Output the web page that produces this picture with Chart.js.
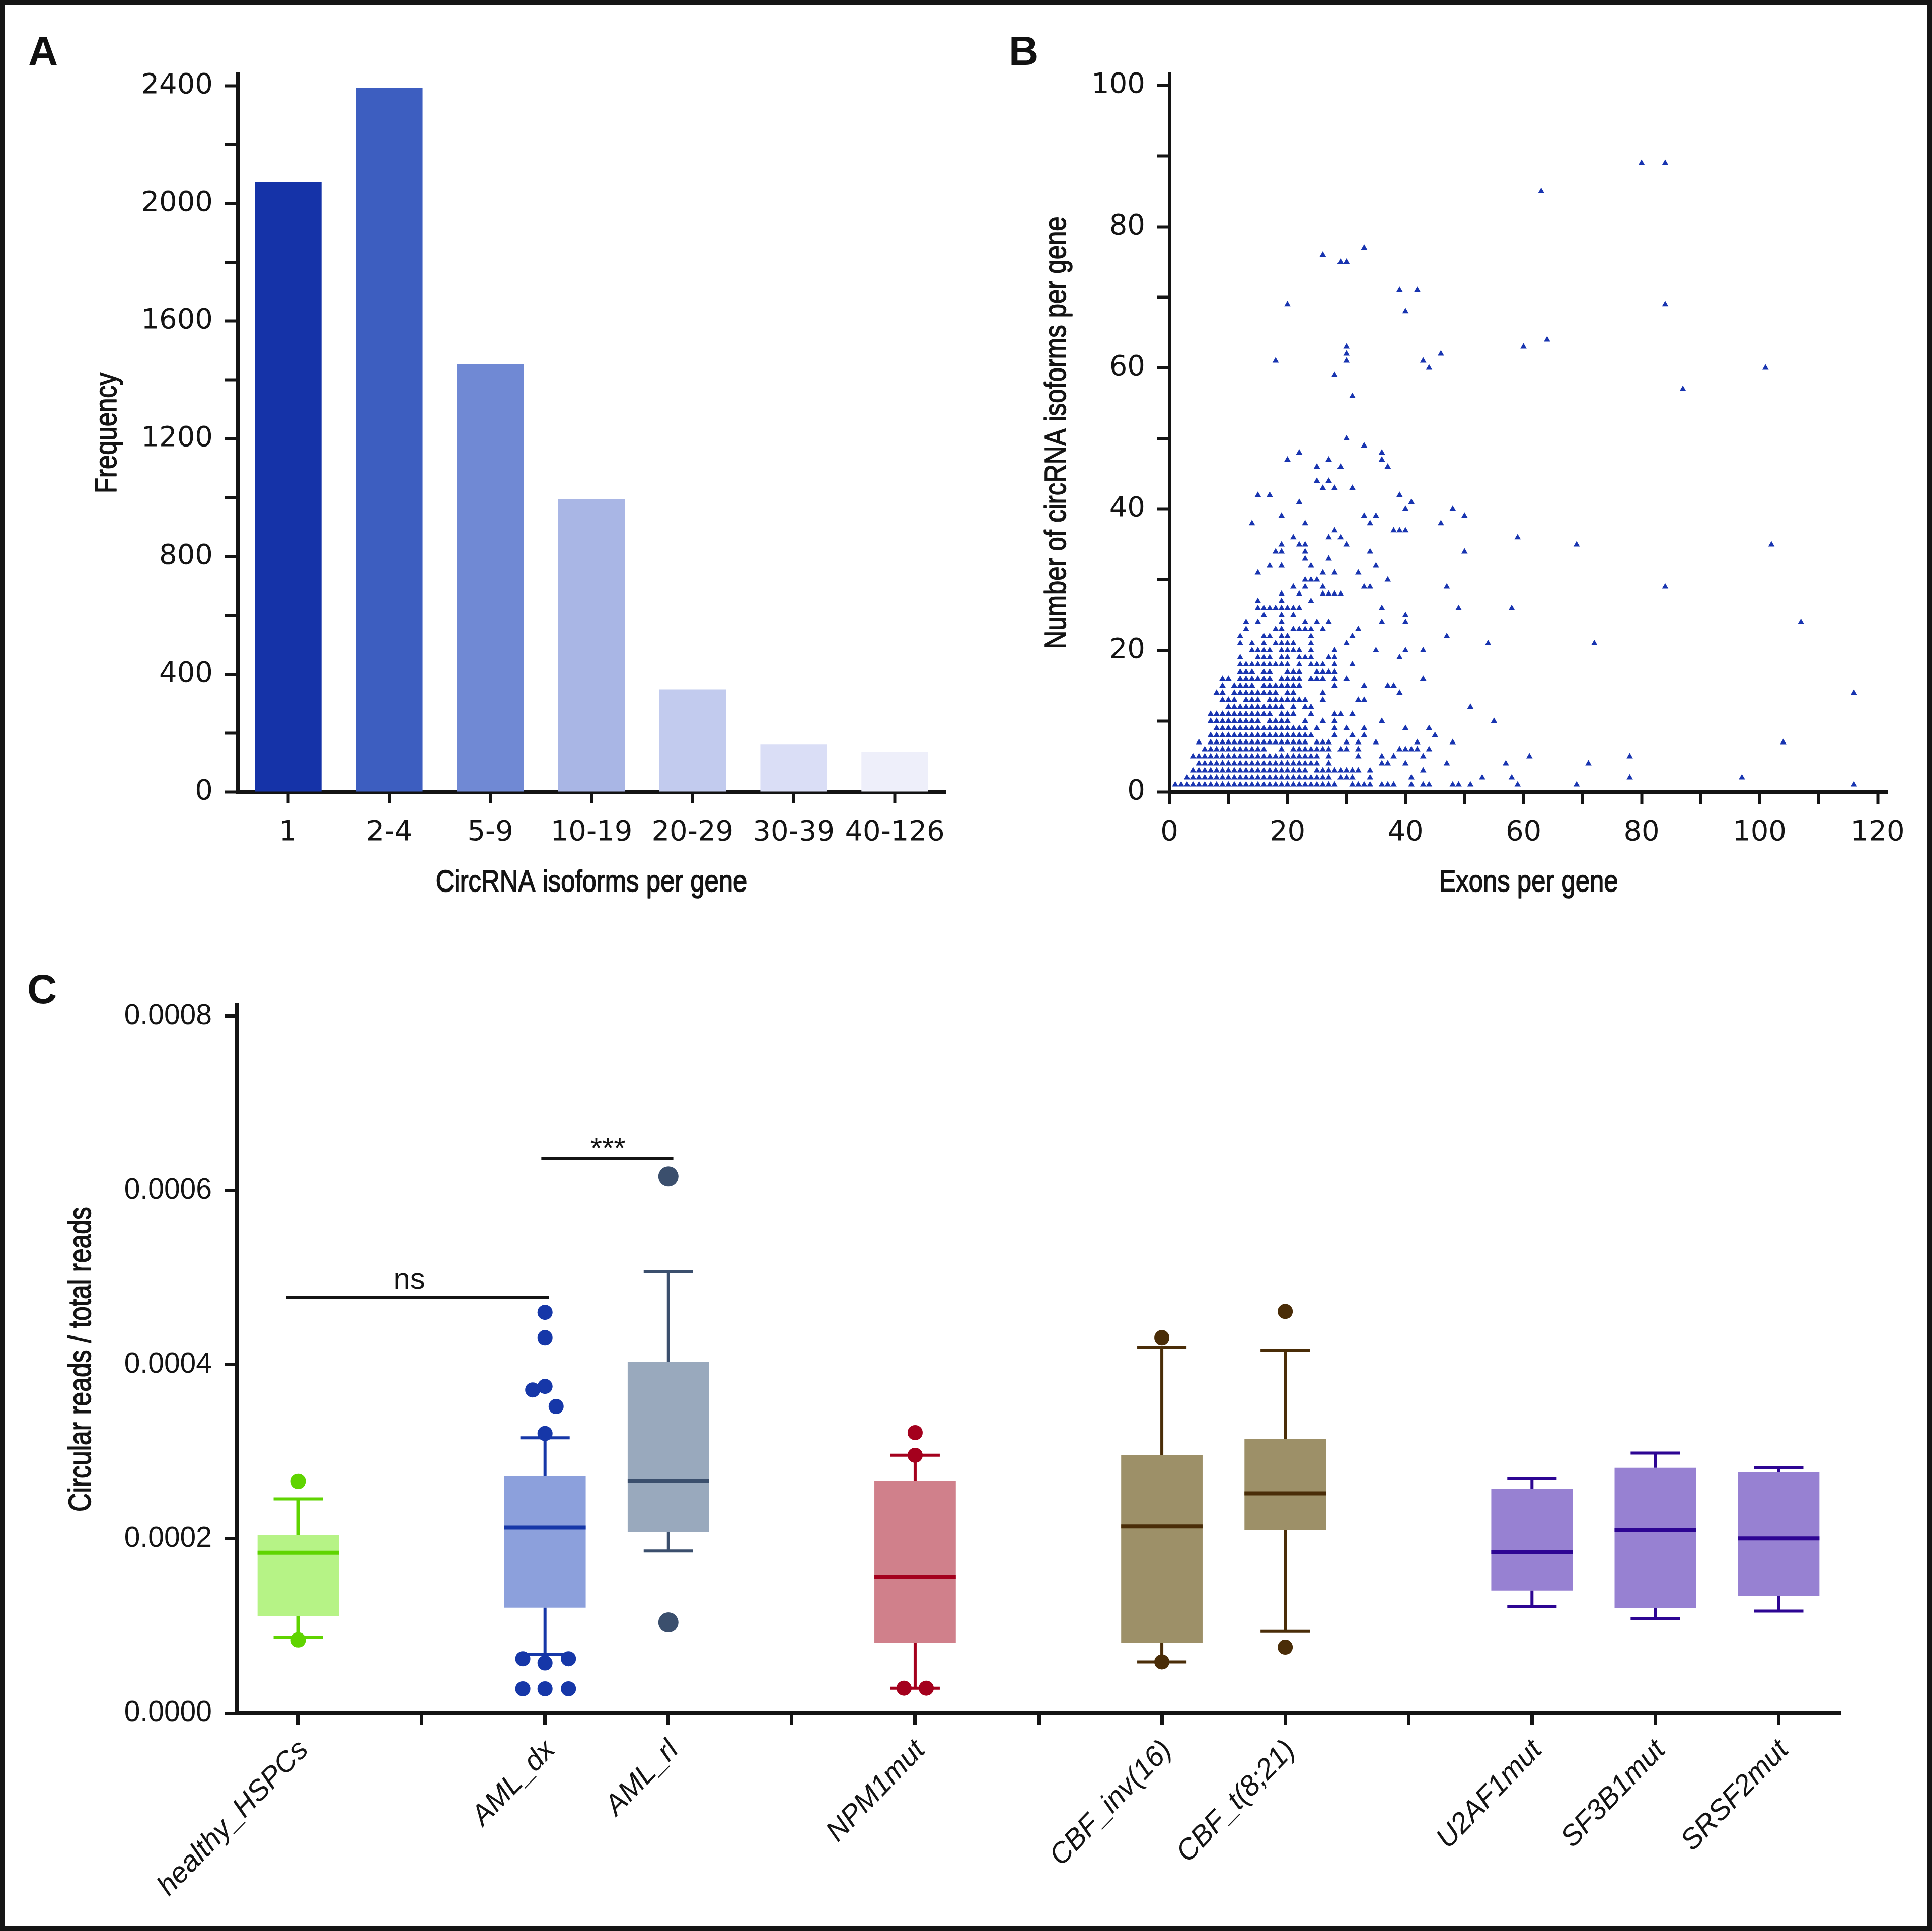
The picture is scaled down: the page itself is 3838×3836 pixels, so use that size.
<!DOCTYPE html>
<html>
<head>
<meta charset="utf-8">
<title>circRNA isoforms figure</title>
<script src="https://cdn.jsdelivr.net/npm/chart.js@4.4.1/dist/chart.umd.min.js"></script>
<style>
  html, body { margin:0; padding:0; background:#fff; }
  #page { position:relative; width:3838px; height:3836px; background:#fff; overflow:hidden; }
  #page canvas { position:absolute; }
  #frame { position:absolute; left:0; top:0; width:3838px; height:3836px; box-sizing:border-box; border:10px solid #151515; pointer-events:none; }
  .panel { position:absolute; font-family:'Liberation Sans', Arial, sans-serif; font-weight:bold; font-size:82px; line-height:1; color:#111; }
</style>
</head>
<body>
<div id="page">
  <canvas id="chartA" width="1950" height="1850" style="left:0;top:0"></canvas>
  <canvas id="chartB" width="1888" height="1850" style="left:1950px;top:0"></canvas>
  <canvas id="chartC" width="3838" height="1986" style="left:0;top:1850px"></canvas>
  <div class="panel" style="left:56px;top:60px">A</div>
  <div class="panel" style="left:2004px;top:60px">B</div>
  <div class="panel" style="left:54px;top:1924px">C</div>
  <div id="frame"></div>
</div>
<script>
// ---------------- Panel A data ----------------
const isoformBins   = ['1', '2-4', '5-9', '10-19', '20-29', '30-39', '40-126'];
const binFrequency  = [2073, 2392, 1453, 996, 348, 162, 136];
const freqTicks      = [0, 200, 400, 600, 800, 1000, 1200, 1400, 1600, 1800, 2000, 2200, 2400];
const freqTickLabels = ['0', '', '400', '', '800', '', '1200', '', '1600', '', '2000', '', '2400'];

// ---------------- Panel B data ----------------
// each entry of isoformLevels is a y value (circRNA isoforms per gene);
// exonsAtLevel holds the x values (exons per gene) of the genes at that level
const isoformLevels = [1,2,3,4,5,6,7,8,9,10,11,12,13,14,15,16,17,18,19,20,21,22,23,24,25,26,27,28,29,30,
  31,32,33,34,35,36,37,38,39,40,41,42,43,44,46,47,48,49,50,56,57,59,60,61,62,63,64,68,69,71,75,76,77,85,89];
const exonsAtLevel = [
  [1,2,3,4,5,6,7,8,9,10,11,12,13,14,15,16,17,18,19,20,21,22,23,24,25,26,27,28,31,32,33,34,36,37,38,41,43,44,48,49,51,59,69,116],
  [3,4,5,6,7,8,9,10,11,12,13,14,15,16,17,18,19,20,21,22,23,24,25,26,27,29,30,31,34,41,53,58,78,97],
  [4,5,6,7,8,9,10,11,12,13,14,15,16,17,18,19,20,21,22,23,25,26,27,28,29,30,31,32,34,43],
  [5,6,7,8,9,10,11,12,13,14,15,16,17,18,19,20,21,22,23,24,25,27,36,37,40,47,57,71],
  [4,5,6,7,8,9,10,11,12,13,14,15,16,17,18,19,20,21,22,23,24,25,27,32,36,38,43,61,78],
  [6,7,8,9,10,11,12,13,14,15,16,19,21,22,23,24,25,26,27,29,30,32,39,40,41,42,44],
  [5,7,8,9,10,11,12,13,14,15,16,17,18,19,20,21,22,23,25,26,27,30,32,35,42,48,104],
  [7,8,9,10,11,12,13,14,15,16,17,18,19,20,21,22,23,24,28,31,33,45],
  [8,9,10,11,12,13,14,15,16,17,18,19,20,21,22,23,25,28,30,33,40,44],
  [7,8,9,10,11,12,13,14,15,17,18,19,20,23,26,28,36,55],
  [7,8,9,10,11,12,13,14,15,16,17,19,20,21,24,28,29,31],
  [10,11,12,13,14,15,16,17,18,19,21,23,24,51],
  [9,10,11,13,14,15,17,18,19,20,21,22,23,26,32,33],
  [8,9,11,12,13,14,15,16,17,18,20,21,26,39,116],
  [9,11,12,13,14,16,17,18,19,20,21,22,28,33,37,38],
  [9,10,12,13,14,15,16,17,19,20,21,22,24,25,26,28,30,43],
  [12,13,14,16,17,20,21,22,25,26,27,28],
  [12,13,14,15,16,17,18,19,20,22,24,25,26,28,31],
  [12,15,16,17,19,20,22,23,24,27,28,39],
  [14,15,16,17,19,20,21,22,24,28,35,40,43],
  [12,14,16,18,19,20,21,24,30,54,72],
  [12,16,17,19,20,24,31,47],
  [13,18,19,21,22,23,24,26,32],
  [13,15,19,23,25,27,36,40,107],
  [16,19,21,40],
  [15,16,17,18,19,20,21,22,36,49,58],
  [15,19,24],
  [19,22,26,27,28,29],
  [21,23,26,33,34,47,84],
  [23,24,25,37],
  [15,26,28,32],
  [17,19,24,35],
  [23,27],
  [18,19,23,34,50],
  [19,22,23,30,69,102],
  [21,27,29,59],
  [28,38,39,40],
  [14,23,34,46],
  [19,33,35,50],
  [40,48],
  [22,41],
  [15,17,39],
  [26,28,31],
  [25,27],
  [25,29,37],
  [20,27,36],
  [22,36],
  [33],
  [30],
  [31],
  [87],
  [28],
  [44,101],
  [18,30,43],
  [30,46],
  [30,60],
  [64],
  [40],
  [20,84],
  [39,42],
  [29,30],
  [26],
  [33],
  [63],
  [80,84]
];
const exonTicks       = [0, 10, 20, 30, 40, 50, 60, 70, 80, 90, 100, 110, 120];
const exonTickLabels  = ['0', '', '20', '', '40', '', '60', '', '80', '', '100', '', '120'];
const levelTicks      = [0, 10, 20, 30, 40, 50, 60, 70, 80, 90, 100];
const levelTickLabels = ['0', '', '20', '', '40', '', '60', '', '80', '', '100'];

// ---------------- Panel C data ----------------
const slotLabels = ['healthy_HSPCs', '', 'AML_dx', 'AML_rl', '', 'NPM1mut', '', 'CBF_inv(16)', 'CBF_t(8;21)', '', 'U2AF1mut', 'SF3B1mut', 'SRSF2mut'];
const slotTicks  = [0, 1, 2, 3, 4, 5, 6, 7, 8, 9, 10, 11, 12];
const boxSlots    = [0, 2, 3, 5, 7, 8, 10, 11, 12];
const whiskerLow  = [0.0000868, 0.0000671, 0.000186, 0.0000285, 0.0000587, 0.0000938, 0.0001224, 0.0001083, 0.0001171];
const quartile1   = [0.000111, 0.000121, 0.000208, 0.0000809, 0.0000809, 0.0002102, 0.0001406, 0.0001206, 0.0001343];
const medianValue = [0.000184, 0.000213, 0.000266, 0.0001564, 0.0002143, 0.0002523, 0.000185, 0.0002099, 0.0002004];
const quartile3   = [0.000204, 0.000272, 0.000403, 0.0002659, 0.0002965, 0.0003146, 0.0002575, 0.0002817, 0.0002764];
const whiskerHigh = [0.000246, 0.000316, 0.000507, 0.0002961, 0.00042, 0.0004167, 0.000269, 0.0002985, 0.0002821];
// outliers: group index (into boxSlots), horizontal jitter in slot units, value
const outlierGroup  = [0, 0, 1, 1, 1, 1, 1, 1, 1, 1, 1, 1, 1, 1, 2, 2, 3, 3, 3, 3, 4, 4, 5, 5];
const outlierJitter = [0, 0, 0, 0, 0, -0.1, 0.09, 0, -0.18, 0, 0.19, -0.18, 0, 0.19, 0, 0, 0, 0, -0.09, 0.09, 0, 0, 0, 0];
const outlierValue  = [0.000266, 0.0000839, 0.00046, 0.000431, 0.000375, 0.000371, 0.000352, 0.000321, 0.0000623, 0.0000575, 0.0000623,
                       0.0000278, 0.0000278, 0.0000278, 0.000616, 0.000104, 0.000322, 0.000296, 0.0000285, 0.0000285, 0.000431, 0.0000587,
                       0.000461, 0.0000757];
const readTicks      = [0, 0.0002, 0.0004, 0.0006, 0.0008];
const readTickLabels = ['0.0000', '0.0002', '0.0004', '0.0006', '0.0008'];
const sigLabels     = ['ns', '***'];
const sigStart      = [-0.1, 1.97];
const sigEnd        = [2.03, 3.04];
const sigLevel      = [0.0004775, 0.000637];
const sigLabelSlot  = [0.9, 2.51];
const sigLabelLevel = [0.000487, 0.000637];

// ---------------- styles ----------------
const INK = '#141414';
const ROUND = "'DejaVu Sans', sans-serif";
const SANS = "'Liberation Sans', Arial, sans-serif";
const binColors = ['#1533a8', '#3d5ec0', '#7089d4', '#a9b6e5', '#c2cbee', '#dadef6', '#eeeffa'];
const boxFill   = ['#b6f386', '#8ca0dc', '#99a9bd', '#d0808b', '#9d9068', '#9d9068', '#9781d2', '#9781d2', '#9781d2'];
const lineColor = ['#5fd400', '#1637a8', '#3b4f6d', '#a4001d', '#4a2d08', '#4a2d08', '#2d0593', '#2d0593', '#2d0593'];
const dotRadius = [15, 15, 20, 15, 15, 15, 15, 15, 15];

Chart.defaults.color = INK;
const gridOpts = (tl, tw) => ({ display: true, drawOnChartArea: false, offset: false, drawTicks: true, tickLength: tl, tickWidth: tw, tickColor: INK, color: INK });
const borderOpts = (w) => ({ display: true, width: w, color: INK });
const setTicks = (values) => (scale) => { scale.ticks = values.map(v => ({ value: v })); };
const baseOptions = (padding) => ({
  responsive: false, animation: false, devicePixelRatio: 1,
  layout: { padding },
  plugins: { legend: { display: false }, tooltip: { enabled: false } },
  events: []
});

// Axis titles in a condensed face (Helvetica Condensed look): Liberation Sans squeezed horizontally,
// centred on the chart area through the chart's own layout.
const condensedTitles = {
  id: 'condensedTitles',
  afterDraw(chart, args, opts) {
    const { ctx, chartArea } = chart;
    const draw = (t, cx, cy, vertical) => {
      ctx.save();
      ctx.translate(cx, cy);
      if (vertical) ctx.rotate(-Math.PI / 2);
      ctx.scale(0.82, 1);
      ctx.fillStyle = INK;
      ctx.strokeStyle = INK;
      ctx.lineWidth = 1.6;
      ctx.lineJoin = 'round';
      ctx.font = t.size + "px 'Liberation Sans', Arial, sans-serif";
      ctx.textAlign = 'center';
      ctx.textBaseline = 'middle';
      ctx.fillText(t.text, 0, 0);
      ctx.strokeText(t.text, 0, 0);
      ctx.restore();
    };
    if (opts.x) draw(opts.x, (chartArea.left + chartArea.right) / 2, chartArea.bottom + opts.x.gap, false);
    if (opts.y) draw(opts.y, chartArea.left - opts.y.gap, (chartArea.top + chartArea.bottom) / 2, true);
  }
};

// ---------------- Chart A ----------------
new Chart(document.getElementById('chartA'), {
  type: 'bar',
  data: { labels: isoformBins, datasets: [{ data: binFrequency, backgroundColor: binColors, borderWidth: 0, categoryPercentage: 1, barPercentage: 0.66 }] },
  plugins: [condensedTitles],
  options: Object.assign(baseOptions({ left: 100, top: 147, right: 72, bottom: 61 }), {
    plugins: { legend: { display: false }, tooltip: { enabled: false },
      condensedTitles: { x: { text: 'CircRNA isoforms per gene', size: 62, gap: 181 }, y: { text: 'Frequency', size: 62, gap: 258 } } },
    scales: {
      x: {
        offset: true, grid: gridOpts(22, 6), border: borderOpts(7),
        ticks: { color: INK, font: { family: ROUND, size: 56 }, padding: 26, minRotation: 0, maxRotation: 0, autoSkip: false },
        afterFit(s) { s.height = 216; }
      },
      y: {
        bounds: 'data', min: 0, max: 2440, grid: gridOpts(25, 6), border: borderOpts(7),
        afterBuildTicks: setTicks(freqTicks),
        ticks: { autoSkip: false, color: INK, font: { family: ROUND, size: 56 }, padding: 24, callback: (v, i) => freqTickLabels[i] },
        afterFit(s) { s.width = 372; }
      }
    }
  })
});

// ---------------- Chart B ----------------
const scatterPoints = [];
isoformLevels.forEach((lvl, i) => exonsAtLevel[i].forEach(ex => scatterPoints.push({ x: ex, y: lvl })));
new Chart(document.getElementById('chartB'), {
  type: 'scatter',
  data: { datasets: [{ data: scatterPoints, pointStyle: 'triangle', pointRadius: 7.3, pointHoverRadius: 7.3, backgroundColor: '#1834b0', borderWidth: 0 }] },
  plugins: [condensedTitles],
  options: Object.assign(baseOptions({ left: 40, top: 147, right: 88, bottom: 61 }), {
    plugins: { legend: { display: false }, tooltip: { enabled: false },
      condensedTitles: { x: { text: 'Exons per gene', size: 62, gap: 181 }, y: { text: 'Number of circRNA isoforms per gene', size: 62, gap: 223 } } },
    scales: {
      x: {
        type: 'linear', bounds: 'data', min: 0, max: 121.7, grid: gridOpts(24, 6), border: borderOpts(7),
        afterBuildTicks: setTicks(exonTicks),
        ticks: { autoSkip: false, color: INK, font: { family: ROUND, size: 56 }, padding: 24, minRotation: 0, maxRotation: 0, callback: (v, i) => exonTickLabels[i] },
        afterFit(s) { s.height = 216; }
      },
      y: {
        type: 'linear', bounds: 'data', min: 0, max: 101.6, grid: gridOpts(24, 6), border: borderOpts(7),
        afterBuildTicks: setTicks(levelTicks),
        ticks: { autoSkip: false, color: INK, font: { family: ROUND, size: 56 }, padding: 24, callback: (v, i) => levelTickLabels[i] },
        afterFit(s) { s.width = 333; }
      }
    }
  })
});

// ---------------- Chart C ----------------
const cDatasets = [{
  type: 'bar', data: boxSlots.map((s, i) => ({ x: s, y: [quartile1[i], quartile3[i]] })),
  backgroundColor: boxFill, borderWidth: 0, categoryPercentage: 1, barPercentage: 0.66, order: 4
}];
boxSlots.forEach((s, i) => {
  cDatasets.push({
    type: 'line', order: 3, borderColor: lineColor[i], borderWidth: 6, pointRadius: 0, fill: false, spanGaps: false,
    data: [
      { x: s - 0.2, y: whiskerHigh[i] }, { x: s + 0.2, y: whiskerHigh[i] }, { x: s, y: null },
      { x: s, y: whiskerHigh[i] }, { x: s, y: quartile3[i] }, { x: s, y: null },
      { x: s, y: quartile1[i] }, { x: s, y: whiskerLow[i] }, { x: s, y: null },
      { x: s - 0.2, y: whiskerLow[i] }, { x: s + 0.2, y: whiskerLow[i] }
    ]
  });
  cDatasets.push({
    type: 'line', order: 2, borderColor: lineColor[i], borderWidth: 8, pointRadius: 0, fill: false,
    data: [{ x: s - 0.33, y: medianValue[i] }, { x: s + 0.33, y: medianValue[i] }]
  });
  const pts = [];
  outlierGroup.forEach((g, k) => { if (g === i) pts.push({ x: s + outlierJitter[k], y: outlierValue[k] }); });
  if (pts.length) {
    cDatasets.push({ type: 'line', order: 1, showLine: false, data: pts, pointRadius: dotRadius[i], pointHoverRadius: dotRadius[i],
      pointBackgroundColor: lineColor[i], pointBorderWidth: 0, borderWidth: 0 });
  }
});
const sigLineData = [];
sigLabels.forEach((t, i) => {
  sigLineData.push({ x: sigStart[i], y: sigLevel[i] }, { x: sigEnd[i], y: sigLevel[i] }, { x: sigEnd[i], y: null });
});
cDatasets.push({ type: 'line', order: 0, data: sigLineData, borderColor: INK, borderWidth: 6, pointRadius: 0, fill: false, spanGaps: false });

const sigTextPlugin = {
  id: 'sigText',
  afterDatasetsDraw(chart) {
    const { ctx, scales: { x, y } } = chart;
    ctx.save();
    ctx.fillStyle = INK;
    ctx.font = "60px 'Liberation Sans', Arial, sans-serif";
    ctx.textAlign = 'center';
    ctx.textBaseline = 'alphabetic';
    sigLabels.forEach((t, i) => ctx.fillText(t, x.getPixelForValue(sigLabelSlot[i]), y.getPixelForValue(sigLabelLevel[i])));
    ctx.restore();
  }
};

new Chart(document.getElementById('chartC'), {
  type: 'bar',
  data: { datasets: cDatasets },
  plugins: [sigTextPlugin, condensedTitles],
  options: Object.assign(baseOptions({ left: 40, top: 147, right: 182, bottom: 33 }), {
    plugins: { legend: { display: false }, tooltip: { enabled: false },
      condensedTitles: { y: { text: 'Circular reads / total reads', size: 63, gap: 307 } } },
    scales: {
      x: {
        type: 'linear', bounds: 'data', min: -0.5, max: 12.5, offset: false, grid: gridOpts(23, 7), border: borderOpts(8),
        afterBuildTicks: setTicks(slotTicks),
        ticks: { autoSkip: false, minRotation: 46, maxRotation: 46, color: INK, font: { family: SANS, size: 57, style: 'italic' },
                 padding: 18, labelOffset: 11, callback: (v, i) => slotLabels[i] },
        afterFit(s) { s.height = 400; }
      },
      y: {
        type: 'linear', bounds: 'data', min: 0, max: 0.0008127, grid: gridOpts(23, 7), border: borderOpts(8),
        afterBuildTicks: setTicks(readTicks),
        ticks: { autoSkip: false, color: INK, font: { family: SANS, size: 57 }, padding: 26, callback: (v, i) => readTickLabels[i] },
        afterFit(s) { s.width = 430; }
      }
    }
  })
});
</script>
</body>
</html>
